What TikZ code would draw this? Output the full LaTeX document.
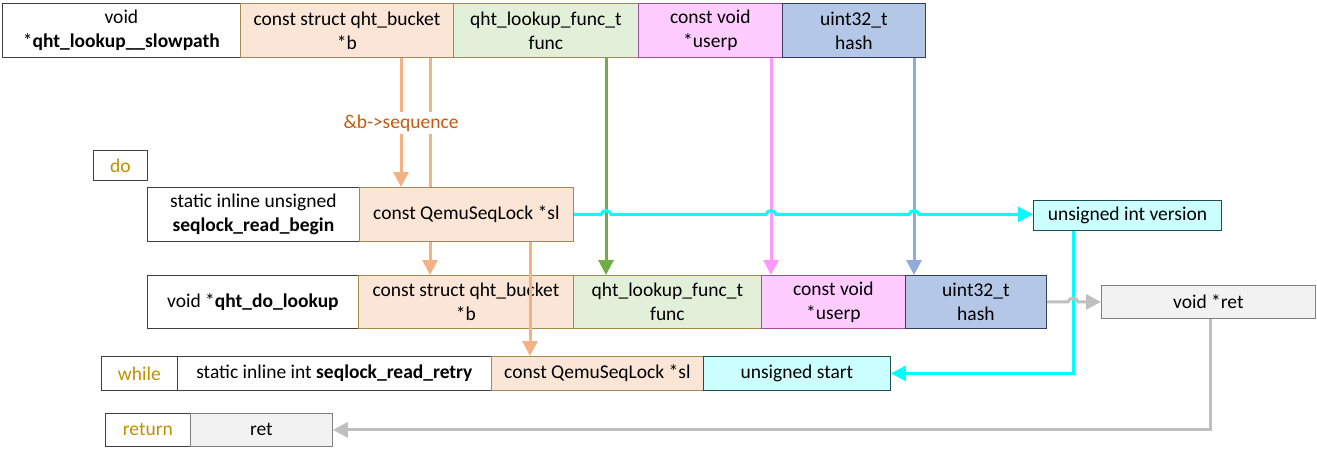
\documentclass[tikz,border=0pt]{standalone}
\usepackage{fontspec}
\setmainfont{Carlito}
\usetikzlibrary{arrows.meta,calc}
\pgfdeclarelayer{bg}
\pgfdeclarelayer{lines}
\pgfsetlayers{bg,lines,main}
\definecolor{peach}{HTML}{FBE5D6}
\definecolor{obord}{HTML}{A08A4C}
\definecolor{oline}{HTML}{F4B183}
\definecolor{olabel}{HTML}{C55A11}
\definecolor{gfill}{HTML}{E2F0D9}
\definecolor{gline}{HTML}{70AD47}
\definecolor{pfill}{HTML}{FFCCFF}
\definecolor{pbord}{HTML}{A050A0}
\definecolor{pline}{HTML}{FF99FF}
\definecolor{bfill}{HTML}{B4C7E7}
\definecolor{bbord}{HTML}{2F3F5F}
\definecolor{bline}{HTML}{8FAADC}
\definecolor{cfill}{HTML}{CCFFFF}
\definecolor{cbord}{HTML}{1F4E4E}
\definecolor{cline}{HTML}{00FFFF}
\definecolor{yfill}{HTML}{F2F2F2}
\definecolor{ybord}{HTML}{808080}
\definecolor{yline}{HTML}{BFBFBF}
\definecolor{kw}{HTML}{BF9000}
\newcommand{\fs}{\fontsize{19.5}{24}\selectfont}
\begin{document}
\begin{tikzpicture}[x=1pt,y=-1pt,
  bx/.style={draw, anchor=north west, inner sep=0pt, align=center, font=\fs, line width=0.8pt},
  wbox/.style={bx, fill=white, draw=black!75},
  obox/.style={bx, fill=peach, draw=obord},
  gbox/.style={bx, fill=gfill, draw=obord},
  pbox/.style={bx, fill=pfill, draw=pbord},
  bbox/.style={bx, fill=bfill, draw=bbord},
  cbox/.style={bx, fill=cfill, draw=cbord},
  ybox/.style={bx, fill=yfill, draw=ybord},
  kwbox/.style={wbox, text=kw},
  conn/.style={line width=3pt, -{Triangle[width=15pt,length=15pt]}},
  oconn/.style={conn, draw=oline, color=oline},
  gconn/.style={conn, draw=gline, color=gline},
  pconn/.style={conn, draw=pline, color=pline},
  bconn/.style={conn, draw=bline, color=bline},
  cconn/.style={conn, draw=cline, color=cline},
  yconn/.style={conn, draw=yline, color=yline},
]
\begin{pgfonlayer}{bg}
\fill[white] (0,0) rectangle (1317,452);
\end{pgfonlayer}
\useasboundingbox (0,0) rectangle (1317,452);

% top row
\node[wbox, minimum width=238pt, minimum height=54pt] (tv) at (2,3) {void\\*\textbf{qht\_lookup\_\_slowpath}};
\node[obox, minimum width=213pt, minimum height=54pt] (tb) at (240,3) {const struct qht\_bucket\\*b};
\node[gbox, minimum width=185pt, minimum height=54pt] (tf) at (453,3) {qht\_lookup\_func\_t\\func};
\node[pbox, minimum width=144pt, minimum height=54pt] (tu) at (638,3) {const void\\*userp};
\node[bbox, minimum width=143pt, minimum height=54pt] (th) at (782,3) {uint32\_t\\hash};

% do
\node[kwbox, minimum width=54pt, minimum height=30pt] (do) at (93,150) {do};

% seqlock_read_begin
\node[wbox, minimum width=212pt, minimum height=54pt] (rb) at (147,187) {static inline unsigned\\\textbf{seqlock\_read\_begin}};
\node[obox, minimum width=214pt, minimum height=54pt] (sl) at (359,187) {const QemuSeqLock *sl};
\node[cbox, minimum width=188pt, minimum height=30pt] (ver) at (1033,200) {unsigned int version};

% qht_do_lookup
\node[wbox, minimum width=211pt, minimum height=53pt] (dl) at (147,275) {void *\textbf{qht\_do\_lookup}};
\node[obox, minimum width=215pt, minimum height=53pt] (db) at (358,275) {const struct qht\_bucket\\*b};
\node[gbox, minimum width=188pt, minimum height=53pt] (df) at (573,275) {qht\_lookup\_func\_t\\func};
\node[pbox, minimum width=144pt, minimum height=53pt] (du) at (761,275) {const void\\*userp};
\node[bbox, minimum width=141pt, minimum height=53pt] (dh) at (905,275) {uint32\_t\\hash};
\node[ybox, minimum width=214pt, minimum height=33pt] (ret) at (1101,285) {void *ret};

% while
\node[kwbox, minimum width=76pt, minimum height=34pt] (wh) at (101,356) {while};
\node[wbox, minimum width=314pt, minimum height=34pt] (rr) at (177,356) {static inline int \textbf{seqlock\_read\_retry}};
\node[obox, minimum width=212pt, minimum height=34pt] (sl2) at (491,356) {const QemuSeqLock *sl};
\node[cbox, minimum width=187pt, minimum height=34pt] (st) at (703,356) {unsigned start};

% return
\node[kwbox, minimum width=85pt, minimum height=33pt] (rt) at (105,413) {return};
\node[ybox, minimum width=142pt, minimum height=33pt] (rv) at (190,413) {ret};

\coordinate (xg) at (606,0);
\coordinate (xp) at (771,0);
\coordinate (xb) at (914,0);
\coordinate (xc) at (1073,0);

\begin{pgfonlayer}{lines}
\draw[oconn] (tb.south -| 401,0) -- (sl.north -| 401,0);
\draw[oconn] (tb.south -| 430,0) -- (db.north -| 430,0);
\draw[gconn] (tf.south -| xg) -- (df.north -| xg);
\draw[pconn] (tu.south -| xp) -- (du.north -| xp);
\draw[bconn] (th.south -| xb) -- (dh.north -| xb);
\end{pgfonlayer}

% label on top of lines
\node[fill=white, inner xsep=1pt, inner ysep=3pt, text=olabel, font=\fs] (lbl) at (401,123) {\&b->sequence};

% orange sl -> sl2 drawn over boxes
\draw[oconn] (sl.south -| 530,0) -- (sl2.north -| 530,0);

% cyan with jumps
\draw[cconn] (sl.east)
  -- ($(xg |- sl.east)+(-5,0)$) .. controls ($(xg |- sl.east)+(-4,-5)$) and ($(xg |- sl.east)+(4,-5)$) .. ($(xg |- sl.east)+(5,0)$)
  -- ($(xp |- sl.east)+(-5,0)$) .. controls ($(xp |- sl.east)+(-4,-5)$) and ($(xp |- sl.east)+(4,-5)$) .. ($(xp |- sl.east)+(5,0)$)
  -- ($(xb |- sl.east)+(-5,0)$) .. controls ($(xb |- sl.east)+(-4,-5)$) and ($(xb |- sl.east)+(4,-5)$) .. ($(xb |- sl.east)+(5,0)$)
  -- (ver.west |- sl.east);
\draw[cconn] (ver.south -| xc) |- (st.east);

% gray
\draw[yconn] (dh.east)
  -- ($(xc |- dh.east)+(-5,0)$) .. controls ($(xc |- dh.east)+(-4,-5)$) and ($(xc |- dh.east)+(4,-5)$) .. ($(xc |- dh.east)+(5,0)$)
  -- (ret.west);
\draw[yconn] (ret.south -| 1210,0) |- (rv.east);
\end{tikzpicture}
\end{document}
